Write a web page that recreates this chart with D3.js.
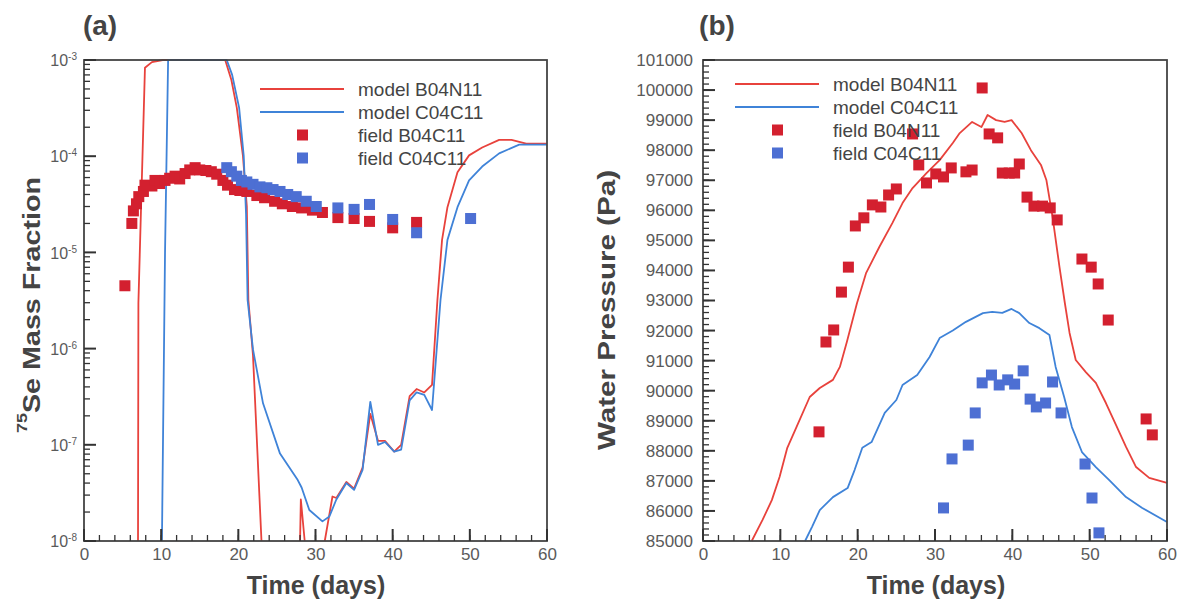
<!DOCTYPE html>
<html>
<head>
<meta charset="utf-8">
<script src="https://cdn.jsdelivr.net/npm/d3@7"></script>
<style>
  body { margin: 0; background: #fff; }
  svg { display: block; font-family: "Liberation Sans", Arial, sans-serif; }
</style>
</head>
<body>
<div id="chart"></div>
<script>
// ---- panel (a): 75Se mass fraction ----
const aModelB04N11 = [
  [6.9, 1e-9], [7.0, 1e-8], [7.05, 3e-6], [7.9, 8.3e-4], [8.8, 9.5e-4], [10.2, 1e-3],
  [18.3, 1e-3], [19.1, 6.2e-4], [19.8, 3.2e-4], [20.6, 1e-4], [21.1, 3e-5], [21.3, 3.2e-6],
  [21.9, 8.5e-7], [23.0, 1e-8], [23.2, 1e-9],
  [27.8, 1e-9], [28.0, 1e-8], [28.1, 2.7e-8], [28.6, 1e-8], [28.7, 1e-9],
  [31.0, 1e-9], [31.2, 1e-8], [32.2, 2.9e-8], [32.7, 2.8e-8], [34.0, 4.1e-8], [35.0, 3.5e-8],
  [36.1, 5.8e-8], [37.1, 2.1e-7], [38.1, 1.1e-7], [39.0, 1.1e-7], [40.2, 8.5e-8], [41.1, 1e-7],
  [42.2, 3.2e-7], [43.1, 3.8e-7], [44.1, 3.5e-7], [45.1, 4.2e-7], [45.8, 3.2e-6], [46.4, 1.35e-5],
  [47.1, 2.95e-5], [48.4, 6.8e-5], [49.9, 1.02e-4], [51.6, 1.23e-4], [53.8, 1.48e-4],
  [55.4, 1.48e-4], [57.3, 1.35e-4], [60, 1.35e-4]
];
const aModelC04C11 = [
  [10.05, 1e-9], [10.1, 1e-8], [10.5, 1e-5], [10.9, 1e-3], [18.5, 1e-3], [19.2, 7e-4],
  [20.1, 3.2e-4], [20.7, 1e-4], [21.0, 2.5e-5], [21.2, 3.2e-6], [21.9, 9.8e-7], [23.2, 2.7e-7],
  [25.4, 8.1e-8], [27.7, 4.3e-8], [28.2, 3.6e-8], [29.2, 2.1e-8], [30.9, 1.6e-8], [31.8, 1.8e-8],
  [32.7, 2.7e-8], [34.0, 4e-8], [35.0, 3.4e-8], [36.1, 5.5e-8], [37.1, 2.8e-7], [38.1, 1e-7],
  [39.0, 1.07e-7], [40.2, 8.5e-8], [41.1, 8.9e-8], [42.2, 2.9e-7], [43.1, 3.5e-7], [44.1, 3.3e-7],
  [45.1, 2.3e-7], [46.2, 3.2e-6], [47.1, 1.35e-5], [48.4, 2.95e-5], [49.9, 5.6e-5],
  [51.6, 7.8e-5], [53.8, 1.07e-4], [56.4, 1.32e-4], [60, 1.32e-4]
];
const aFieldB04C11 = [
  [5.3, 4.5e-6], [6.2, 2e-5], [6.4, 2.7e-5], [6.8, 3.2e-5], [7.1, 3.8e-5], [7.7, 4.3e-5],
  [7.9, 5e-5], [8.8, 4.9e-5], [9.2, 5.6e-5], [9.8, 5.2e-5], [10.5, 5.6e-5], [11.1, 5.9e-5],
  [11.8, 6.2e-5], [12.4, 5.8e-5], [13.1, 6.6e-5], [13.7, 7.2e-5], [14.4, 7.6e-5], [15.0, 7.2e-5],
  [15.8, 7.1e-5], [16.5, 6.9e-5], [17.2, 6.5e-5], [18.0, 5.6e-5], [18.6, 5e-5], [19.5, 4.5e-5],
  [20.2, 4.4e-5], [21.1, 4.3e-5], [22.4, 3.9e-5], [23.4, 3.7e-5], [24.7, 3.4e-5], [25.7, 3.2e-5],
  [27.0, 3e-5], [28.2, 2.9e-5], [29.6, 2.75e-5], [30.9, 2.6e-5], [32.9, 2.3e-5], [35.0, 2.25e-5],
  [37.0, 2.1e-5], [40.0, 1.8e-5], [43.1, 2.05e-5]
];
const aFieldC04C11 = [
  [18.5, 7.6e-5], [19.1, 6.9e-5], [19.8, 6.2e-5], [20.4, 5.6e-5], [21.1, 5.4e-5], [21.9, 5.1e-5],
  [22.8, 4.8e-5], [23.7, 4.7e-5], [24.5, 4.5e-5], [25.4, 4.3e-5], [26.4, 4e-5], [27.5, 3.8e-5],
  [28.8, 3.4e-5], [30.1, 3e-5], [32.9, 2.9e-5], [35.0, 2.8e-5], [37.0, 3.15e-5], [40.0, 2.2e-5],
  [43.1, 1.6e-5], [50.1, 2.25e-5]
];

// ---- panel (b): water pressure ----
const bModelB04N11 = [
  [6.3, 85000], [7.7, 85700], [8.9, 86360], [9.9, 87130], [10.9, 88100], [12.1, 88800],
  [13.8, 89790], [15.1, 90090], [16.8, 90360], [17.7, 90790], [18.6, 91620], [19.9, 92900],
  [21.1, 93920], [22.8, 94780], [24.5, 95580], [25.8, 96240], [27.1, 96740], [28.9, 97240],
  [30.6, 97670], [32.3, 98240], [33.2, 98570], [34.8, 98940], [36.0, 98770], [36.8, 99170],
  [37.9, 99000], [39.0, 98940], [39.9, 99000], [41.2, 98570], [42.4, 98000], [43.7, 97510],
  [44.4, 97010], [45.2, 95780], [46.1, 94110], [46.8, 92900], [47.4, 91920], [48.2, 91020],
  [49.5, 90620], [50.8, 90260], [52.1, 89590], [53.4, 88860], [54.7, 88130], [56.0, 87460],
  [57.7, 87100], [60, 86930]
];
const bModelC04C11 = [
  [13.2, 85000], [14.1, 85470], [15.1, 86030], [16.8, 86460], [18.7, 86760], [19.6, 87360],
  [20.6, 88100], [21.8, 88290], [23.5, 89260], [25.0, 89690], [25.8, 90190], [27.7, 90520],
  [29.3, 91120], [30.6, 91750], [32.3, 92000], [34.0, 92290], [36.2, 92580], [37.4, 92620],
  [38.7, 92590], [39.9, 92720], [40.9, 92580], [42.2, 92250], [43.5, 92080], [44.8, 91850],
  [45.6, 90790], [46.7, 89790], [47.7, 88790], [49.0, 87960], [50.8, 87460], [52.5, 87030],
  [54.7, 86460], [56.8, 86100], [60, 85630]
];
const bFieldB04N11 = [
  [15.0, 88630], [15.9, 91620], [16.9, 92020], [17.9, 93280], [18.8, 94110], [19.7, 95480],
  [20.8, 95750], [21.9, 96180], [23.0, 96110], [24.0, 96510], [25.0, 96710], [27.1, 98540],
  [27.9, 97510], [28.9, 96910], [30.1, 97210], [31.1, 97110], [32.1, 97410], [34.0, 97280],
  [34.8, 97340], [36.1, 100070], [37.0, 98540], [38.1, 98410], [38.7, 97240], [39.6, 97240],
  [40.3, 97240], [40.9, 97540], [41.9, 96440], [42.8, 96140], [43.9, 96140], [44.9, 96080],
  [45.8, 95680], [49.0, 94380], [50.2, 94110], [51.1, 93550], [52.4, 92350], [57.3, 89060],
  [58.1, 88530]
];
const bFieldC04C11 = [
  [31.1, 86100], [32.2, 87730], [34.3, 88190], [35.2, 89260], [36.1, 90260], [37.3, 90520],
  [38.3, 90190], [39.4, 90360], [40.3, 90220], [41.4, 90660], [42.3, 89720], [43.1, 89460],
  [44.3, 89590], [45.2, 90290], [46.3, 89260], [49.4, 87560], [50.3, 86430], [51.2, 85270]
];

const xTicks = [0, 10, 20, 30, 40, 50, 60];
const xMinorTicks = d3.range(0, 61, 2);
const aYTicks = [1e-8, 1e-7, 1e-6, 1e-5, 1e-4, 1e-3];
const bYTicks = d3.range(85000, 101001, 1000);
const bYMinorTicks = d3.range(85000, 101001, 200);
const aLegend = ["model B04N11", "model C04C11", "field B04C11", "field C04C11"];
const bLegend = ["model B04N11", "model C04C11", "field B04N11", "field C04C11"];

const RED_LINE = "#e8423c", BLUE_LINE = "#3f83d8";
const RED_SQ = "#d3202f", BLUE_SQ = "#4d6fd3";
const TEXT = "#444", TICK_TEXT = "#5a5a5a", FRAME = "#444";

const svg = d3.select("#chart").append("svg").attr("width", 1180).attr("height", 603);

function drawTicks(x, y, left, bottom, yMajor, yMinor) {
  const t = svg.append("g").attr("stroke", "#333").attr("fill", "none");
  t.append("g").attr("stroke-width", 1.3).selectAll("line").data(xMinorTicks).join("line")
    .attr("x1", d => x(d)).attr("x2", d => x(d)).attr("y1", bottom).attr("y2", bottom - 6);
  t.append("g").attr("stroke-width", 2).selectAll("line").data(xTicks).join("line")
    .attr("x1", d => x(d)).attr("x2", d => x(d)).attr("y1", bottom).attr("y2", bottom - 12);
  t.append("g").attr("stroke-width", 1.3).selectAll("line").data(yMinor).join("line")
    .attr("x1", left).attr("x2", left + 6).attr("y1", d => y(d)).attr("y2", d => y(d));
  t.append("g").attr("stroke-width", 2).selectAll("line").data(yMajor).join("line")
    .attr("x1", left).attr("x2", left + 12).attr("y1", d => y(d)).attr("y2", d => y(d));
}

function xLabels(x, bottom) {
  svg.append("g").attr("transform", `translate(0,${bottom})`)
    .call(d3.axisBottom(x).tickValues(xTicks).tickSize(0).tickPadding(7).tickFormat(d3.format("d")))
    .call(s => s.select(".domain").remove())
    .selectAll("text").attr("font-size", 17).attr("fill", TICK_TEXT).attr("font-family", "Liberation Sans, Arial");
}

// values below the axis floor break the line instead of being clipped
function drawSeries(x, y, yMin, lines, squares) {
  const line = d3.line().defined(d => d[1] >= yMin).x(d => x(d[0])).y(d => y(d[1]));
  lines.forEach(([pts, c]) => {
    svg.append("path").datum(pts).attr("fill", "none").attr("stroke", c)
      .attr("stroke-width", 1.8).attr("stroke-linejoin", "round").attr("d", line);
  });
  squares.forEach(([pts, c]) => {
    svg.append("g").selectAll("rect").data(pts).join("rect")
      .attr("x", d => x(d[0]) - 5.5).attr("y", d => y(d[1]) - 5.5)
      .attr("width", 11).attr("height", 11).attr("fill", c);
  });
}

function frame(left, right, top, bottom) {
  svg.append("rect").attr("x", left).attr("y", top).attr("width", right - left).attr("height", bottom - top)
    .attr("fill", "none").attr("stroke", FRAME).attr("stroke-width", 1.8);
}

function legend(lx, ly, labels) {
  const colors = [RED_LINE, BLUE_LINE, RED_SQ, BLUE_SQ];
  labels.forEach((lab, i) => {
    const yy = ly + i * 23;
    if (i < 2) {
      svg.append("line").attr("x1", lx).attr("x2", lx + 84).attr("y1", yy).attr("y2", yy)
        .attr("stroke", colors[i]).attr("stroke-width", 1.8);
    } else {
      svg.append("rect").attr("x", lx + 37).attr("y", yy - 5.5).attr("width", 11).attr("height", 11)
        .attr("fill", colors[i]);
    }
    svg.append("text").attr("x", lx + 98).attr("y", yy + 7).attr("font-size", 19)
      .attr("fill", TEXT).text(lab);
  });
}

// ---------- panel (a) ----------
const aX = d3.scaleLinear().domain([0, 60]).range([84, 547]);
const aY = d3.scaleLog().domain([1e-8, 1e-3]).range([541, 60]);
const aMinor = [];
aYTicks.slice(0, -1).forEach(d => { for (let k = 2; k <= 9; k++) aMinor.push(d * k); });

xLabels(aX, 541);
svg.append("g").attr("transform", "translate(84,0)")
  .call(d3.axisLeft(aY).tickValues(aYTicks).tickSize(0).tickFormat(""))
  .call(s => s.select(".domain").remove())
  .selectAll(".tick").append("text")
  .attr("x", -7).attr("dy", "0.35em").attr("text-anchor", "end").attr("fill", TICK_TEXT)
  .attr("font-size", 16)
  .call(t => t.append("tspan").text("10"))
  .call(t => t.append("tspan").attr("dy", "-0.6em").attr("font-size", 10)
    .text(d => "-" + Math.round(-Math.log10(d))));

drawSeries(aX, aY, 1e-8,
  [[aModelB04N11, RED_LINE], [aModelC04C11, BLUE_LINE]],
  [[aFieldB04C11, RED_SQ], [aFieldC04C11, BLUE_SQ]]);
frame(84, 547, 60, 541);
drawTicks(aX, aY, 84, 541, aYTicks, aMinor);
legend(260, 89, aLegend);

svg.append("text").attr("x", 100).attr("y", 35).attr("text-anchor", "middle")
  .attr("font-size", 28).attr("font-weight", "bold").attr("fill", TEXT).text("(a)");
svg.append("text").attr("x", 316).attr("y", 594).attr("text-anchor", "middle")
  .attr("font-size", 25).attr("font-weight", "bold").attr("fill", TEXT).text("Time (days)");
const aTitle = svg.append("text").attr("transform", "translate(35,305) rotate(-90)")
  .attr("text-anchor", "middle").attr("font-size", 24).attr("font-weight", "bold").attr("fill", TEXT)
  .attr("textLength", 256).attr("lengthAdjust", "spacingAndGlyphs");
aTitle.append("tspan").attr("font-size", 15).attr("dy", "-0.55em").text("75");
aTitle.append("tspan").attr("dy", "0.55em").text("Se Mass Fraction");

// ---------- panel (b) ----------
const bX = d3.scaleLinear().domain([0, 60]).range([703, 1167]);
const bY = d3.scaleLinear().domain([85000, 101000]).range([541, 60]);

xLabels(bX, 541);
svg.append("g").attr("transform", "translate(703,0)")
  .call(d3.axisLeft(bY).tickValues(bYTicks).tickSize(0).tickPadding(10).tickFormat(d3.format("d")))
  .call(s => s.select(".domain").remove())
  .selectAll("text").attr("font-size", 17).attr("fill", TICK_TEXT).attr("font-family", "Liberation Sans, Arial");

drawSeries(bX, bY, 85000,
  [[bModelB04N11, RED_LINE], [bModelC04C11, BLUE_LINE]],
  [[bFieldB04N11, RED_SQ], [bFieldC04C11, BLUE_SQ]]);
frame(703, 1167, 60, 541);
drawTicks(bX, bY, 703, 541, bYTicks, bYMinorTicks);
legend(735, 84, bLegend);

svg.append("text").attr("x", 717).attr("y", 35).attr("text-anchor", "middle")
  .attr("font-size", 28).attr("font-weight", "bold").attr("fill", TEXT).text("(b)");
svg.append("text").attr("x", 936).attr("y", 594).attr("text-anchor", "middle")
  .attr("font-size", 25).attr("font-weight", "bold").attr("fill", TEXT).text("Time (days)");
svg.append("text").attr("transform", "translate(615,310) rotate(-90)")
  .attr("text-anchor", "middle").attr("font-size", 24).attr("font-weight", "bold").attr("fill", TEXT)
  .attr("textLength", 280).attr("lengthAdjust", "spacingAndGlyphs")
  .text("Water Pressure (Pa)");
</script>
</body>
</html>
